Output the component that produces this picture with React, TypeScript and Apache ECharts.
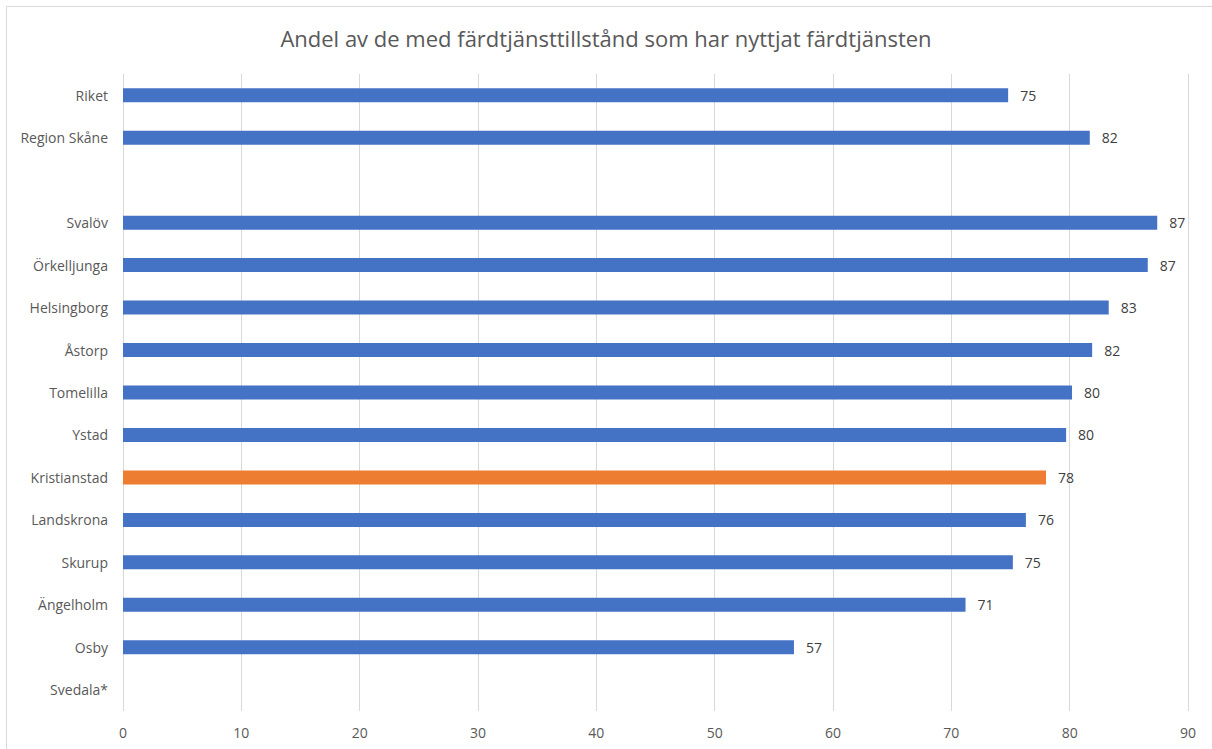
import React, { useEffect, useRef } from "react";
import * as echarts from "echarts";

const categories = [
  "Riket",
  "Region Skåne",
  "",
  "Svalöv",
  "Örkelljunga",
  "Helsingborg",
  "Åstorp",
  "Tomelilla",
  "Ystad",
  "Kristianstad",
  "Landskrona",
  "Skurup",
  "Ängelholm",
  "Osby",
  "Svedala*",
];
const values: (number | null)[] = [
  74.8, 81.7, null, 87.4, 86.6, 83.3, 81.9, 80.2, 79.7, 78.0, 76.3, 75.2, 71.2, 56.7, null,
];
const highlight = "Kristianstad";
const xTicks = { min: 0, max: 90, interval: 10 };
const title = "Andel av de med färdtjänsttillstånd som har nyttjat färdtjänsten";

export default function App() {
  const ref = useRef<HTMLDivElement>(null);
  useEffect(() => {
    if (!ref.current) return;
    const chart = echarts.init(ref.current, null, { renderer: "svg" });
    const font = "'Open Sans', 'Noto Sans', sans-serif";
    chart.setOption({
      animation: false,
      backgroundColor: "#ffffff",
      textStyle: { fontFamily: font },
      title: {
        text: title,
        left: "center",
        top: 22,
        textStyle: { fontFamily: font, fontSize: 22, fontWeight: "normal", color: "#595959" },
      },
      graphic: [
        {
          type: "rect",
          shape: { x: 6.5, y: 6.5, width: 1220, height: 760 },
          style: { fill: "none", stroke: "#d9d9d9", lineWidth: 1 },
          silent: true,
        },
      ],
      grid: { left: 123, right: 24, top: 74, bottom: 38, containLabel: false },
      xAxis: {
        type: "value",
        min: xTicks.min,
        max: xTicks.max,
        interval: xTicks.interval,
        axisLine: { show: false },
        axisTick: { show: false },
        splitLine: { show: true, lineStyle: { color: "#d9d9d9", width: 1 } },
        axisLabel: { color: "#595959", fontSize: 14, margin: 14, fontFamily: font },
      },
      yAxis: {
        type: "category",
        data: categories,
        inverse: true,
        axisLine: { show: false },
        axisTick: { show: false },
        axisLabel: { color: "#595959", fontSize: 14, margin: 15, fontFamily: font },
      },
      series: [
        {
          type: "bar",
          barWidth: 14,
          data: values.map((v, i) => ({
            value: v,
            itemStyle: {
              color: categories[i] === highlight ? "#ED7D31" : "#4472C4",
            },
          })),
          label: {
            show: true,
            position: "right",
            distance: 12,
            color: "#404040",
            fontSize: 14,
            fontFamily: font,
            formatter: (p: any) => (p.value == null ? "" : String(Math.round(p.value))),
          },
        },
      ],
    });
    return () => chart.dispose();
  }, []);
  return (
    <div
      ref={ref}
      style={{ position: "fixed", left: 0, top: 0, width: 1212, height: 749 }}
    />
  );
}
